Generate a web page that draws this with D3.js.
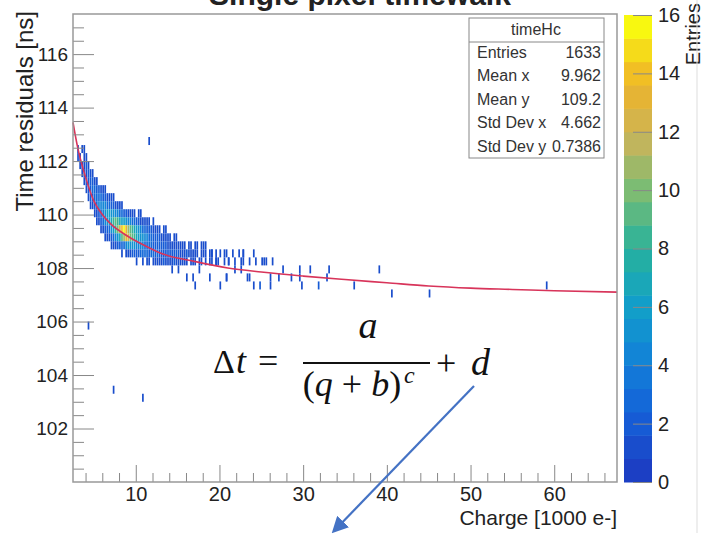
<!DOCTYPE html>
<html lang="en">
<head>
<meta charset="utf-8">
<script src="https://cdn.jsdelivr.net/npm/d3@7"></script>
<style>
body{margin:0;background:#fff;}
text{font-family:"Liberation Sans",Arial,sans-serif;fill:#222;}
.frame{fill:none;stroke:#999;stroke-width:1.5px;}
.tick line{stroke:#888;}
.stats text{font-size:16px;fill:#333;}
.formula text{font-family:"Liberation Serif","DejaVu Serif",serif;fill:#111;}
</style>
</head>
<body>
<div id="chart"></div>
<script>
// histogram timeHc, bin size in x (1000 e-) and y (ns)
var binX = 0.25, binY = 0.3;

var xTicks = [10, 20, 30, 40, 50, 60];
var yTicks = [102, 104, 106, 108, 110, 112, 114, 116];
var zTicks = [0, 2, 4, 6, 8, 10, 12, 14, 16];

// rows: [y bin low edge, x of first bin, counts per x bin]
var cellRows = [
  [112.3, 3.0,  "1 0 1 1"],
  [112.0, 3.0,  "1 1 0 1 1"],
  [111.7, 3.25, "1 1 1 2 1"],
  [111.4, 3.5,  "1 2 1 2 1 1"],
  [111.1, 3.75, "1 2 2 2 2 1 1"],
  [110.8, 4.0,  "1 2 2 3 3 2 2 1 1 1"],
  [110.5, 4.25, "1 2 2 3 3 3 3 2 2 1 1 1 1"],
  [110.2, 4.5,  "1 1 2 3 4 4 4 4 3 3 2 2 1 1 1 1"],
  [109.9, 5.0,  "1 1 2 3 4 5 6 6 5 5 4 4 3 3 2 2 1 1 1 1 0 1 1"],
  [109.6, 5.25, "1 1 2 3 4 5 6 7 8 9 8 7 6 6 5 4 4 3 3 2 2 1 1 1 1 1 0 1"],
  [109.3, 5.75, "1 1 2 2 3 5 6 8 10 12 14 16 13 11 9 8 7 6 5 4 3 3 2 2 2 1 1 1 1 0 1 1"],
  [109.0, 6.25, "1 1 1 2 3 4 5 7 9 11 13 12 10 9 8 7 6 5 5 4 4 3 3 2 2 2 2 1 1 1 1 1 0 1 1"],
  [108.7, 7.0,  "1 1 1 2 2 3 3 4 5 5 5 5 4 4 4 4 3 3 3 3 2 2 2 2 2 2 2 1 1 1 1 1 1 1 1 1 0 1 1 0 1 1 0 1 0 1"],
  [108.4, 8.25, "1 0 1 1 1 2 2 2 2 3 3 3 3 2 3 3 2 3 2 2 2 2 2 2 2 2 2 2 1 1 1 2 1 1 1 1 1 0 1 1 1 0 1 1 0 1 0 1 0 1 1 0 0 1 0 0 1 0 1"],
  [108.1, 10.0, "1 0 0 1 0 1 1 0 1 1 1 1 1 2 1 1 1 1 2 1 1 1 1 1 1 0 1 1 1 0 1 1 0 1 0 1 1 0 1 1 0 0 1 0 1 0 0 1 0 0 1 1 0 0 1 0 0 1 0 0 1 0 1"]
];

// isolated entries: [x, y, count]
var sparseCells = [
  [11.5, 112.75, 1], [4.3, 105.75, 1], [7.4, 103.4, 1], [10.9, 103.2, 1],
  [18.0, 108.75, 1], [18.9, 107.77, 1], [17.7, 107.9, 1], [14.4, 107.9, 1],
  [16.8, 107.7, 1], [20.9, 107.8, 1], [20.9, 107.5, 1], [23.3, 107.5, 1],
  [24.0, 107.4, 1], [24.8, 107.45, 2], [24.0, 108.45, 1], [25.4, 108.2, 1],
  [26.3, 108.2, 1], [26.0, 107.5, 1], [26.0, 107.25, 1], [27.2, 107.77, 1],
  [27.6, 108.07, 1], [29.5, 107.7, 1], [29.6, 108.07, 1], [29.9, 107.25, 1],
  [30.8, 108.07, 1], [31.8, 107.4, 2], [32.8, 107.8, 1], [33.0, 108.1, 1],
  [36.0, 107.25, 1], [39.2, 108.02, 1], [40.7, 107.07, 1], [45.0, 107.06, 1],
  [59.0, 107.46, 1], [15.2, 108.0, 1], [16.2, 107.6, 1], [19.5, 108.3, 1],
  [21.8, 108.0, 1], [22.5, 107.9, 1], [22.8, 108.6, 1], [19.0, 108.6, 1],
  [20.0, 107.2, 1], [17.0, 107.45, 1], [23.7, 107.75, 1], [28.5, 107.6, 1],
  [21.2, 108.35, 1]
];

// fitted timewalk curve
var fitX = [2.5, 3, 4, 5, 6, 7, 9, 11, 13, 17, 21, 25, 30, 35, 40, 45, 50, 55, 60, 67.5];
var fitY = [113.45, 112.6, 111.4, 110.5, 110.0, 109.65, 109.2, 108.85, 108.55, 108.25,
            108.0, 107.85, 107.7, 107.57, 107.45, 107.33, 107.25, 107.2, 107.15, 107.1];

var statsRows = [["Entries", "1633"], ["Mean x", "9.962"], ["Mean y", "109.2"],
                 ["Std Dev x", "4.662"], ["Std Dev y", "0.7386"]];

var paletteStops = ["#1c3fc4", "#1560d8", "#1282d8", "#12a0c8", "#28b29c",
                    "#78bc74", "#c8b45a", "#f0b428", "#f8f810"];

var W = 702, H = 542;
var svg = d3.select("#chart").append("svg").attr("width", W).attr("height", H);
svg.append("rect").attr("width", W).attr("height", H).attr("fill", "#fff");

var x = d3.scaleLinear().domain([2.5, 67.5]).range([73, 617]);
var y = d3.scaleLinear().domain([100, 117.5]).range([482, 14]);
var z = d3.scaleLinear().domain([0, 16]).range([482, 15]);

var pal = d3.scaleLinear()
  .domain(paletteStops.map(function(d, i) { return i / (paletteStops.length - 1); }))
  .range(paletteStops);
var nBands = 20, zMax = 16;
function colorOf(n) {
  var b = Math.min(nBands - 1, Math.floor(n / (zMax / nBands)));
  return pal(b / (nBands - 1));
}

// expand rows into cells
var cells = [];
cellRows.forEach(function(r) {
  r[2].split(" ").forEach(function(c, i) {
    if (+c > 0) cells.push({x: r[1] + i * binX, y: r[0], n: +c});
  });
});
sparseCells.forEach(function(s) {
  var bx = 2.5 + Math.floor((s[0] - 2.5) / binX) * binX;
  var by = 100 + Math.floor((s[1] - 100) / binY) * binY;
  cells.push({x: bx, y: by, n: s[2]});
});

svg.append("g").selectAll("rect").data(cells).enter().append("rect")
  .attr("x", function(d) { return x(d.x); })
  .attr("y", function(d) { return y(d.y + binY); })
  .attr("width", function(d) { return x(d.x + binX) - x(d.x) - 0.4; })
  .attr("height", function(d) { return y(d.y) - y(d.y + binY); })
  .attr("fill", function(d) { return colorOf(d.n); });

// fit line
var line = d3.line().curve(d3.curveMonotoneX)
  .x(function(d) { return x(d[0]); })
  .y(function(d) { return y(d[1]); });
svg.append("path").datum(d3.zip(fitX, fitY))
  .attr("d", line).attr("fill", "none")
  .attr("stroke", "#d8345a").attr("stroke-width", 1.6);

// axes
var xMinor = d3.range(4, 67, 2).filter(function(v) { return v % 10 != 0; });
var yMinor = d3.range(100.5, 117.5, 0.5).filter(function(v) { return v % 2 != 0; });

svg.append("g").attr("transform", "translate(0,482)")
  .call(d3.axisBottom(x).tickValues(xMinor).tickSize(-9).tickFormat(""))
  .call(function(g) { g.select(".domain").remove(); });
svg.append("g").attr("transform", "translate(0,482)")
  .call(d3.axisBottom(x).tickValues(xTicks).tickSize(-17).tickPadding(5))
  .call(function(g) { g.select(".domain").remove(); })
  .selectAll("text").attr("font-size", 20).attr("fill", "#222");

svg.append("g").attr("transform", "translate(73,0)")
  .call(d3.axisLeft(y).tickValues(yMinor).tickSize(-11).tickFormat(""))
  .call(function(g) { g.select(".domain").remove(); });
svg.append("g").attr("transform", "translate(73,0)")
  .call(d3.axisLeft(y).tickValues(yTicks).tickSize(-21).tickPadding(5))
  .call(function(g) { g.select(".domain").remove(); })
  .selectAll("text").attr("font-size", 19).attr("fill", "#222");

svg.append("rect").attr("class", "frame")
  .attr("x", 73).attr("y", 14).attr("width", 544).attr("height", 468);

// titles
svg.append("text").attr("x", 360).attr("y", 5).attr("text-anchor", "middle")
  .attr("font-size", 30).attr("font-weight", "bold").attr("fill", "#111")
  .text("Single pixel timewalk");
svg.append("text").attr("transform", "translate(33,11) rotate(-90)")
  .attr("text-anchor", "end").attr("font-size", 24).text("Time residuals [ns]");
svg.append("text").attr("x", 617).attr("y", 525).attr("text-anchor", "end")
  .attr("font-size", 21).text("Charge [1000 e-]");

// colour bar
var bands = d3.range(nBands);
svg.append("g").selectAll("rect").data(bands).enter().append("rect")
  .attr("x", 624).attr("width", 28)
  .attr("y", function(k) { return z((k + 1) * zMax / nBands); })
  .attr("height", function(k) { return z(k * zMax / nBands) - z((k + 1) * zMax / nBands) + 0.5; })
  .attr("fill", function(k) { return pal(k / (nBands - 1)); });
svg.append("g").attr("transform", "translate(652,0)")
  .call(d3.axisRight(z).tickValues(zTicks).tickSize(-19).tickPadding(6))
  .call(function(g) {
    g.select(".domain").remove();
    g.selectAll("line").attr("stroke", "#444");
  })
  .selectAll("text").attr("font-size", 20).attr("fill", "#222");
svg.append("text").attr("transform", "translate(700,3) rotate(-90)")
  .attr("text-anchor", "end").attr("font-size", 20).text("Entries");

// stats box
var st = svg.append("g").attr("class", "stats");
st.append("rect").attr("x", 469).attr("y", 18).attr("width", 135).attr("height", 140)
  .attr("fill", "#fff").attr("stroke", "#888");
st.append("line").attr("x1", 469).attr("x2", 604).attr("y1", 42).attr("y2", 42).attr("stroke", "#888");
st.append("text").attr("x", 536).attr("y", 35).attr("text-anchor", "middle").text("timeHc");
st.selectAll(".row").data(statsRows).enter().append("g")
  .attr("transform", function(d, i) { return "translate(0," + (58 + i * 23.4) + ")"; })
  .each(function(d) {
    d3.select(this).append("text").attr("x", 477).text(d[0]);
    d3.select(this).append("text").attr("x", 601).attr("text-anchor", "end").text(d[1]);
  });

// formula
var f = svg.append("g").attr("class", "formula");
f.append("text").attr("x", 213).attr("y", 373).attr("font-size", 34).text("\u0394");
f.append("text").attr("x", 236).attr("y", 373).attr("font-size", 36).attr("font-style", "italic").text("t");
f.append("text").attr("x", 258).attr("y", 373).attr("font-size", 36).text("=");
f.append("text").attr("x", 368).attr("y", 338).attr("font-size", 38).attr("font-style", "italic")
  .attr("text-anchor", "middle").text("a");
f.append("line").attr("x1", 303).attr("x2", 430).attr("y1", 363).attr("y2", 363)
  .attr("stroke", "#111").attr("stroke-width", 2);
var den = f.append("text").attr("x", 352).attr("y", 396).attr("font-size", 36).attr("text-anchor", "middle");
den.append("tspan").text("(");
den.append("tspan").attr("font-style", "italic").text("q");
den.append("tspan").text(" + ");
den.append("tspan").attr("font-style", "italic").text("b");
den.append("tspan").text(")");
f.append("text").attr("x", 404).attr("y", 383).attr("font-size", 24).attr("font-style", "italic").text("c");
f.append("text").attr("x", 436).attr("y", 375).attr("font-size", 36).text("+");
f.append("text").attr("x", 471).attr("y", 375).attr("font-size", 38).attr("font-style", "italic").text("d");

// arrow
svg.append("defs").append("marker").attr("id", "head")
  .attr("viewBox", "0 0 10 10").attr("refX", 8).attr("refY", 5)
  .attr("markerWidth", 7.5).attr("markerHeight", 7.5).attr("orient", "auto")
  .append("path").attr("d", "M0,0L10,5L0,10z").attr("fill", "#4472c4");
svg.append("line").attr("x1", 474).attr("y1", 386).attr("x2", 334).attr("y2", 531)
  .attr("stroke", "#4472c4").attr("stroke-width", 2.2).attr("marker-end", "url(#head)");

// slide edge
svg.append("line").attr("x1", 697).attr("x2", 697).attr("y1", 0).attr("y2", 533)
  .attr("stroke", "#ddd");
</script>
</body>
</html>
